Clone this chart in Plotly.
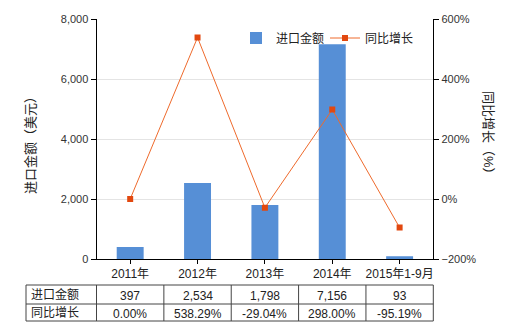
import plotly.graph_objects as go

categories = ["2011年", "2012年", "2013年", "2014年", "2015年1-9月"]
import_values = [397, 2534, 1798, 7156, 93]
growth_values = [0.00, 538.29, -29.04, 298.00, -95.19]
import_labels = ["397", "2,534", "1,798", "7,156", "93"]
growth_labels = ["0.00%", "538.29%", "-29.04%", "298.00%", "-95.19%"]
row_names = ["进口金额", "同比增长"]
series_names = ["进口金额", "同比增长"]

FONT = "Liberation Sans, Noto Sans CJK SC, sans-serif"
BAR_COLOR = "#568FD6"
LINE_COLOR = "#EE6A2C"
MARKER_COLOR = "#E2480F"
TEXT = "#222222"

W, H = 520, 330
# layout in pixels (figure coordinates, origin top-left)
PL, PR, PT, PB = 96.5, 433.3, 19, 259
TL = 26
ROWS_Y = [285, 304, 321]

def px(x):
    return x / W

def py(y):
    return 1 - y / H

fig = go.Figure()
fig.add_trace(go.Bar(
    x=categories, y=import_values, name=series_names[0],
    marker=dict(color=BAR_COLOR, line=dict(width=0)),
    width=0.4, yaxis="y", xaxis="x",
))
fig.add_trace(go.Scatter(
    x=categories, y=growth_values, name=series_names[1],
    mode="lines+markers",
    line=dict(color=LINE_COLOR, width=1),
    marker=dict(symbol="square", size=6, color=MARKER_COLOR),
    yaxis="y2", xaxis="x",
))

# table drawn as layout lines + text
n = len(categories)
colw = (PR - PL) / n
col_edges = [TL, PL] + [PL + colw * (i + 1) for i in range(n)]
shapes = []
line_style = dict(color="#444444", width=1)
for yy in ROWS_Y:
    shapes.append(dict(type="line", xref="paper", yref="paper",
                       x0=px(TL), x1=px(PR), y0=py(yy), y1=py(yy), line=line_style))
for xx in col_edges:
    shapes.append(dict(type="line", xref="paper", yref="paper",
                       x0=px(xx), x1=px(xx), y0=py(ROWS_Y[0]), y1=py(ROWS_Y[-1]), line=line_style))

annotations = []
table_rows = [import_labels, growth_labels]
for r, (name, vals) in enumerate(zip(row_names, table_rows)):
    yc = (ROWS_Y[r] + ROWS_Y[r + 1]) / 2
    annotations.append(dict(text=name, xref="paper", yref="paper",
                            x=px(TL + 3), y=py(yc), xanchor="left", yanchor="middle",
                            showarrow=False, font=dict(family=FONT, size=12, color=TEXT)))
    for i, v in enumerate(vals):
        xc = PL + colw * (i + 0.5)
        annotations.append(dict(text=v, xref="paper", yref="paper",
                                x=px(xc), y=py(yc + 1), xanchor="center", yanchor="middle",
                                showarrow=False, font=dict(family=FONT, size=12, color=TEXT)))

annotations += [
    dict(text="进口金额（美元）", textangle=-90, xref="paper", yref="paper",
         x=px(30), y=py(142), showarrow=False,
         font=dict(family=FONT, size=13, color=TEXT),
         xanchor="center", yanchor="middle"),
    dict(text="同比增长（%）", textangle=90, xref="paper", yref="paper",
         x=px(489), y=py(136), showarrow=False,
         font=dict(family=FONT, size=13, color=TEXT),
         xanchor="center", yanchor="middle"),
]

axis_font = dict(family=FONT, size=11, color="#333333")

fig.update_layout(
    width=W, height=H,
    margin=dict(l=0, r=0, t=0, b=0, pad=0),
    paper_bgcolor="white", plot_bgcolor="white",
    font=dict(family=FONT, size=12, color=TEXT),
    bargap=0.6,
    xaxis=dict(
        domain=[px(PL), px(PR)], anchor="y",
        showline=True, linecolor="#000000", linewidth=1,
        ticks="outside", ticklen=4, tickcolor="#000000",
        tickfont=dict(family=FONT, size=12, color=TEXT),
        showgrid=False, fixedrange=True, automargin=False,
    ),
    yaxis=dict(
        domain=[py(PB), py(PT)], anchor="x",
        range=[0, 8000], dtick=2000, tickformat=",",
        showline=True, linecolor="#000000", linewidth=1,
        ticks="outside", ticklen=5, tickcolor="#000000",
        showgrid=True, gridcolor="#e4e4e4", gridwidth=1,
        zeroline=False, tickfont=axis_font, automargin=False,
    ),
    yaxis2=dict(
        overlaying="y", side="right", anchor="x",
        range=[-200, 600], dtick=200, ticksuffix="%",
        showline=True, linecolor="#000000", linewidth=1,
        ticks="outside", ticklen=5, tickcolor="#000000",
        showgrid=False, zeroline=False, tickfont=axis_font, automargin=False,
    ),
    legend=dict(
        orientation="h", x=px(236), y=py(38),
        xanchor="left", yanchor="middle",
        xref="paper", yref="paper",
        font=dict(family=FONT, size=12, color=TEXT),
        bgcolor="rgba(0,0,0,0)", entrywidth=44, entrywidthmode="pixels",
        tracegroupgap=0,
    ),
    shapes=shapes,
    annotations=annotations,
)

fig.write_html("out.html")
